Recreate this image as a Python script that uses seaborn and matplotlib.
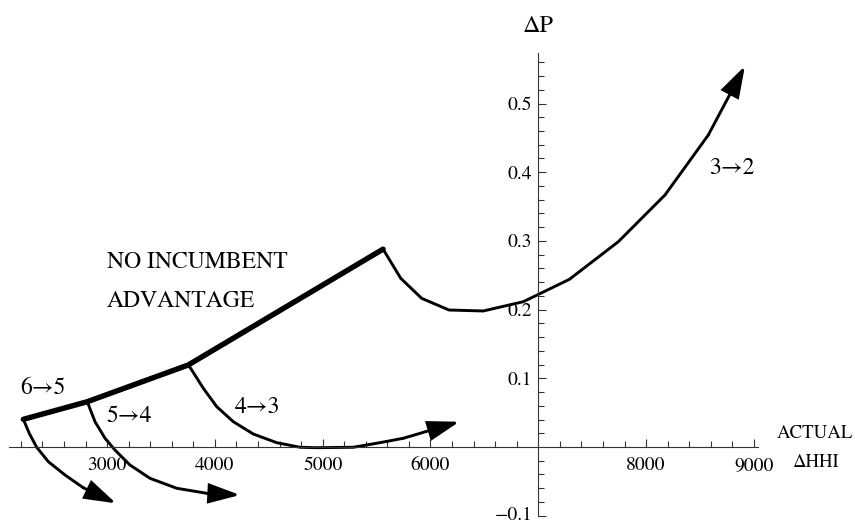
import numpy as np
import pandas as pd
import matplotlib
matplotlib.use("Agg")
import matplotlib.pyplot as plt
import seaborn as sns

# ---------------- data ----------------
# thick "no incumbent advantage" line
noadv_x = [2223, 2816, 3753, 5560]
noadv_y = [0.0403, 0.0659, 0.1194, 0.288]

# 6 -> 5
c65_x = [2223, 2278, 2347, 2455, 2610, 2779, 3083]
c65_y = [0.0403, 0.0199, -0.0004, -0.0214, -0.0408, -0.0593, -0.0820]

# 5 -> 4
c54_x = [2816, 2888, 2981, 3073, 3212, 3398, 3646, 3924, 4233]
c54_y = [0.0659, 0.0368, 0.0127, -0.0044, -0.0262, -0.0456, -0.0601, -0.0674, -0.0699]

# 4 -> 3
c43_x = [3753, 3785, 3893, 4017, 4171, 4356, 4573, 4789, 4944, 5284, 5532, 5748, 6267]
c43_y = [0.1194, 0.1121, 0.0854, 0.0587, 0.0368, 0.0189, 0.0063, -0.0004, -0.0010, -0.0004, 0.0063, 0.0127, 0.0368]

# 3 -> 2
c32_x = [5560, 5724, 5918, 6172, 6490, 6861, 7288, 7742, 8175, 8577, 8917]
c32_y = [0.288, 0.2456, 0.2164, 0.1994, 0.198, 0.2115, 0.244, 0.2988, 0.3668, 0.4541, 0.5546]

x_ticks = [3000, 4000, 5000, 6000, 8000, 9000]
x_tick_labels = ["3000", "4000", "5000", "6000", "8000", "9000"]
y_ticks = [-0.1, 0.1, 0.2, 0.3, 0.4, 0.5]
y_tick_labels = ["\u22120.1", "0.1", "0.2", "0.3", "0.4", "0.5"]

curve_labels = ["6\u21925", "5\u21924", "4\u21923", "3\u21922"]

# ---------------- style ----------------
sns.set_theme(style="white")
serif = ["STIXGeneral", "Liberation Serif", "DejaVu Serif"]
plt.rcParams["font.family"] = serif

fig = plt.figure(figsize=(8.55, 5.24), dpi=100)
ax = fig.add_axes([0, 0, 1, 1])
ax.set_xlim(2006.5, 9938)
ax.set_ylim(-0.1121, 0.6507)

thin = 2.1
thick = 3.9

def draw_curve(xs, ys, lw, arrow):
    df = pd.DataFrame({"x": xs, "y": ys})
    upto = len(df) - 1 if arrow else len(df)
    sns.lineplot(data=df.iloc[:upto], x="x", y="y", sort=False, estimator=None,
                 color="black", lw=lw, ax=ax, solid_capstyle="round",
                 solid_joinstyle="round")
    if arrow:
        ax.annotate("", xy=(xs[-1], ys[-1]), xytext=(xs[-2], ys[-2]),
                    arrowprops=dict(arrowstyle="-|>,head_length=0.95,head_width=0.3",
                                    mutation_scale=20, lw=lw, color="black",
                                    shrinkA=0, shrinkB=0, joinstyle="miter"))

draw_curve(c65_x, c65_y, thin, True)
draw_curve(c54_x, c54_y, thin, True)
draw_curve(c43_x, c43_y, thin, True)
draw_curve(c32_x, c32_y, thin, True)
draw_curve(noadv_x, noadv_y, thick, False)

# ---------------- axes ----------------
for s in ["top", "right"]:
    ax.spines[s].set_visible(False)
ax.spines["left"].set_position(("data", 7000))
ax.spines["bottom"].set_position(("data", 0))
ax.spines["left"].set_bounds(-0.1, 0.573)
ax.spines["bottom"].set_bounds(2090, 9040)
for s in ["left", "bottom"]:
    ax.spines[s].set_color("#333333")
    ax.spines[s].set_linewidth(0.8)

ax.set_xticks(x_ticks, x_tick_labels)
ax.set_yticks(y_ticks, y_tick_labels)
x_minor = [v for v in range(2200, 9001, 200) if v % 1000 != 0]
y_minor = [round(v, 2) for v in np.arange(-0.08, 0.561, 0.02)
           if abs(round(v * 10) - v * 10) > 1e-6]
ax.set_xticks(x_minor, minor=True)
ax.set_yticks(y_minor, minor=True)
ax.tick_params(axis="both", which="both", direction="in", color="#333333", width=0.8,
               bottom=True, left=True, top=False, right=False)
ax.tick_params(axis="both", which="major", length=6)
ax.tick_params(axis="both", which="minor", length=4)
ax.tick_params(axis="x", which="major", pad=7, labelsize=14)
ax.tick_params(axis="y", which="major", pad=4.3, labelsize=14)
for lab in ax.get_xticklabels() + ax.get_yticklabels():
    lab.set_family(serif)
    lab.set_color("black")
ax.get_yticklabels()[0].set_va("center")
ax.set_xlabel("")
ax.set_ylabel("")

# ---------------- text ----------------
tk = dict(family=serif, color="black", va="baseline")
ax.text(2401, 0.0771, curve_labels[0], fontsize=17, ha="center", **tk)
ax.text(3203, 0.0368, curve_labels[1], fontsize=17, ha="center", **tk)
ax.text(4395, 0.0495, curve_labels[2], fontsize=17, ha="center", **tk)
ax.text(8797, 0.3974, curve_labels[3], fontsize=17, ha="center", **tk)
ax.text(2999, 0.2601, "NO INCUMBENT", fontsize=17, ha="left", **tk)
ax.text(2999, 0.2034, "ADVANTAGE", fontsize=17, ha="left", **tk)
ax.text(9567, 0.0131, "ACTUAL", fontsize=13.5, ha="center", **tk)
ax.text(9572, -0.0291, "\u0394HHI", fontsize=13.5, ha="center", **tk)
ax.text(7000, 0.6036, "\u0394P", fontsize=17.5, ha="center", **tk)

fig.savefig("out.png", dpi=100, facecolor="white")
